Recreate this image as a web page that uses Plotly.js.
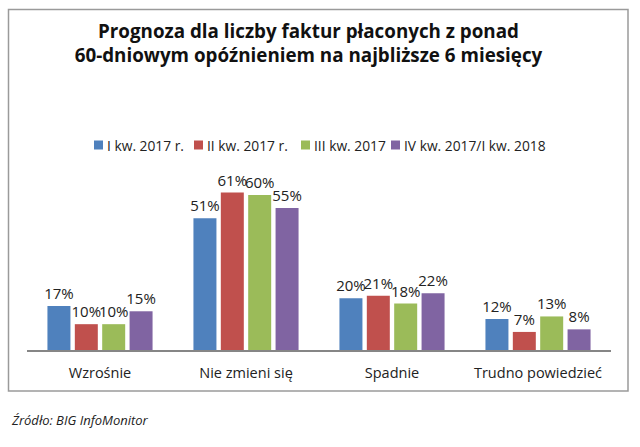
<!DOCTYPE html>
<html>
<head>
<meta charset="utf-8">
<script src="https://cdn.plot.ly/plotly-3.0.1.min.js"></script>
<style>html,body{margin:0;padding:0;background:#fff;}#chart{width:640px;height:447px;}</style>
</head>
<body>
<div id="chart"></div>
<script>
const categories = ["Wzrośnie", "Nie zmieni się", "Spadnie", "Trudno powiedzieć"];
const seriesNames = ["I kw. 2017 r.", "II kw. 2017 r.", "III kw. 2017", "IV kw. 2017/I kw. 2018"];
const q1_2017 = [17, 51, 20, 12];
const q2_2017 = [10, 61, 21, 7];
const q3_2017 = [10, 60, 18, 13];
const q4_2017_q1_2018 = [15, 55, 22, 8];
const colors = ["#4F81BD", "#C0504D", "#9BBB59", "#8064A2"];
const titleText = "Prognoza dla liczby faktur płaconych z ponad<br>60-dniowym opóźnieniem na najbliższe 6 miesięcy";
const sourceText = "Źródło: BIG InfoMonitor";

const FONT = "Open Sans, Noto Sans, sans-serif";
const W = 640, H = 447, ML = 27, MR = 29, MT = 160, MB = 97;
const PW = W - ML - MR, PH = H - MT - MB;
const px = x => (x - ML) / PW;          // pixel x -> paper x
const py = y => (H - MB - y) / PH;      // pixel y -> paper y

const series = [q1_2017, q2_2017, q3_2017, q4_2017_q1_2018];
const traces = series.map((vals, i) => ({
  type: "bar",
  name: seriesNames[i],
  x: categories,
  y: vals,
  marker: {color: colors[i]},
  text: vals.map(v => v + "%"),
  textposition: "outside",
  constraintext: "none",
  textfont: {family: FONT, size: 15, color: "#222"},
  cliponaxis: false,
  showlegend: false,
  hoverinfo: "skip"
}));

// legend (drawn as shapes + annotations to match the tight Excel-style legend)
const legendSquareLeft = [94, 194, 301, 391];
const legendY = 145;
const legendShapes = seriesNames.map((n, i) => ({
  type: "rect", xref: "paper", yref: "paper",
  x0: px(legendSquareLeft[i]), x1: px(legendSquareLeft[i] + 9),
  y0: py(legendY + 4.5), y1: py(legendY - 4.5),
  line: {width: 0}, fillcolor: colors[i]
}));
const legendAnnots = seriesNames.map((n, i) => ({
  text: n, xref: "paper", yref: "paper",
  x: px(legendSquareLeft[i] + 11), xanchor: "left",
  y: py(legendY), yanchor: "middle",
  showarrow: false,
  font: {family: FONT, size: 13.8, color: "#222"}
}));

const layout = {
  width: W, height: H,
  margin: {l: ML, r: MR, t: MT, b: MB},
  paper_bgcolor: "#fff", plot_bgcolor: "#fff",
  font: {family: FONT, color: "#222"},
  barmode: "group",
  bargap: 0.25,
  bargroupgap: 0.16,
  title: {
    text: titleText,
    font: {family: FONT, size: 18.8, color: "#111", weight: "bold"},
    xref: "container", yref: "container",
    x: 0.482, xanchor: "center",
    y: 1 - 38/447, yanchor: "middle"
  },
  showlegend: false,
  xaxis: {
    showline: true, linecolor: "#868686", linewidth: 1.5,
    ticks: "", showgrid: false,
    ticklabelstandoff: 9,
    tickfont: {family: FONT, size: 14.5, color: "#222"},
    fixedrange: true
  },
  yaxis: {
    range: [0, 73.6], visible: false, showgrid: false, zeroline: false, fixedrange: true
  },
  shapes: [{
    type: "rect", xref: "paper", yref: "paper",
    x0: px(8.5), x1: px(628),
    y0: py(391), y1: py(9.5),
    line: {color: "#9a9a9a", width: 1.5}, fillcolor: "rgba(0,0,0,0)"
  }].concat(legendShapes),
  annotations: [{
    text: sourceText, xref: "paper", yref: "paper",
    x: px(9), xanchor: "left",
    y: py(420), yanchor: "middle",
    showarrow: false,
    font: {family: FONT, size: 13, color: "#222", style: "italic"}
  }].concat(legendAnnots)
};

Plotly.newPlot("chart", traces, layout, {displayModeBar: false, staticPlot: true});
</script>
</body>
</html>
